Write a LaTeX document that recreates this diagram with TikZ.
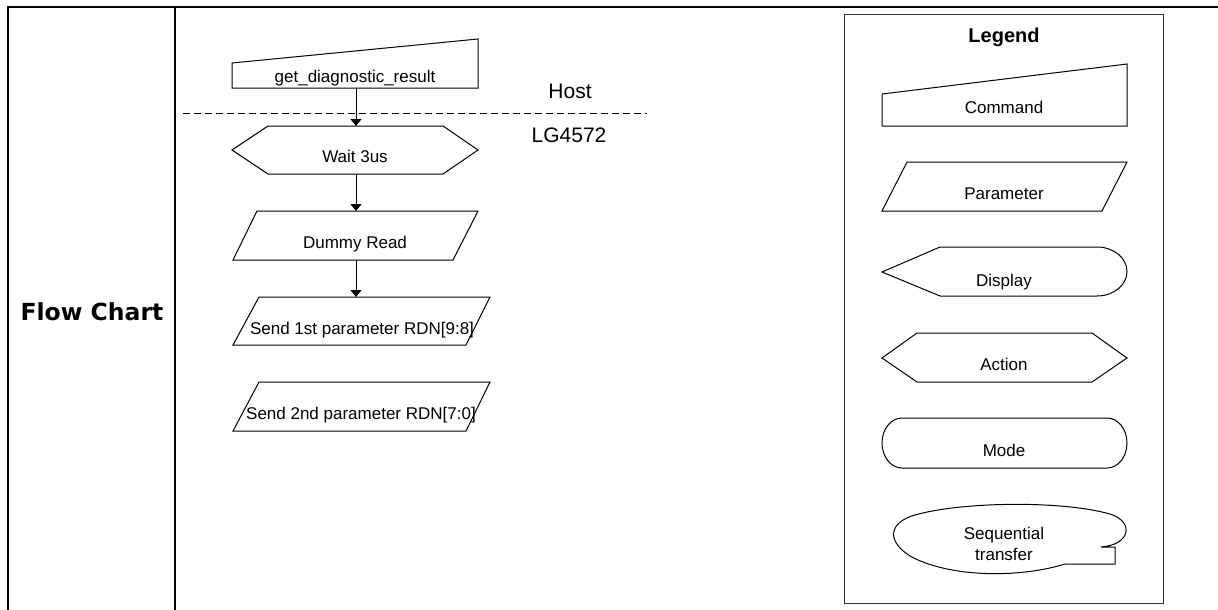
\documentclass[tikz,border=0pt]{standalone}
\usepackage{fontspec}
\setmainfont{Liberation Sans}
\newfontfamily\headfont{DejaVu Sans}
\usepackage{tikz}
\usetikzlibrary{arrows.meta}

\tikzset{
  frame/.style={line width=2pt},
  shp/.style={line width=1pt},
  arr/.style={line width=1pt,-{Triangle[length=7pt,width=11pt]}},
  lbl/.style={anchor=base,inner sep=0pt,font=\fontsize{17}{20}\selectfont},
  side/.style={anchor=base,inner sep=0pt,font=\fontsize{21}{24}\selectfont}
}

\begin{document}
\begin{tikzpicture}[x=1pt,y=-1pt]
\useasboundingbox (0,0) rectangle (1218,610);
% table frame
\draw[frame] (1218,7) -- (8,7) -- (8,610);
\draw[frame] (175,7) -- (175,610);
\node[anchor=base,inner sep=0pt,font=\headfont\bfseries\fontsize{23.5}{26}\selectfont] (title) at (92,320) {Flow Chart};

% flow chart
\draw[shp] (232,63) -- (478,39) -- (478,88) -- (232,88) -- cycle;
\node[lbl] (getres) at (355,82) {get\_diagnostic\_result};
\coordinate (getres-b) at (356,88);

\draw[shp,dashed,dash pattern=on 7pt off 4pt] (183,113) -- (647,113);
\node[side] (host) at (570,99) {Host};
\node[side] (chip) at (569,142) {LG4572};

\draw[shp] (232,150) -- (268,126) -- (443,126) -- (478,150) -- (443,174) -- (268,174) -- cycle;
\node[lbl] (wait) at (355,162) {Wait 3us};
\coordinate (wait-t) at (356,126);
\coordinate (wait-b) at (356,174);

\draw[shp] (257,211) -- (478,211) -- (453,260) -- (233,260) -- cycle;
\node[lbl] (dummy) at (355,248) {Dummy Read};
\coordinate (dummy-t) at (356,211);
\coordinate (dummy-b) at (356,260);

\draw[shp] (259,297) -- (490,297) -- (466,345) -- (233,345) -- cycle;
\node[lbl] (first) at (362,334) {Send 1st parameter RDN[9:8]};
\coordinate (first-t) at (356,297);

\draw[shp] (259,382) -- (490,382) -- (466,431) -- (233,431) -- cycle;
\node[lbl] (second) at (361,419) {Send 2nd parameter RDN[7:0]};

\draw[arr] (getres-b) -- (wait-t);
\draw[arr] (wait-b) -- (dummy-t);
\draw[arr] (dummy-b) -- (first-t);

% legend
\draw[line width=1pt,black!80] (844,15) rectangle (1163,603);
\node[anchor=base,inner sep=0pt,font=\bfseries\fontsize{20}{24}\selectfont] (legend) at (1004,43) {Legend};

\draw[shp] (882,94) -- (1127,64) -- (1127,126) -- (882,126) -- cycle;
\node[lbl] (command) at (1004,113) {Command};

\draw[shp] (907,162) -- (1127,162) -- (1102,211) -- (882,211) -- cycle;
\node[lbl] (param) at (1004,199) {Parameter};

\draw[shp] (882,272) -- (940,247) -- (1097,247)
  arc[start angle=-90,end angle=90,x radius=30,y radius=24.5] -- (940,296) -- cycle;
\node[lbl] (display) at (1004,286) {Display};

\draw[shp] (882,358) -- (917,333) -- (1092,333) -- (1127,358) -- (1092,382) -- (917,382) -- cycle;
\node[lbl] (action) at (1004,370) {Action};

\draw[shp] (902,418) -- (1107,418)
  arc[start angle=-90,end angle=90,x radius=20,y radius=25] -- (902,468)
  arc[start angle=90,end angle=270,x radius=20,y radius=25] -- cycle;
\node[lbl] (mode) at (1004,456) {Mode};

\draw[shp] (1101,547) -- (1115,547) -- (1115,564) -- (1065,564)
  .. controls (1020,578) and (950,578) .. (910,556)
  .. controls (885,540) and (890,522) .. (915,515)
  .. controls (960,502) and (1060,500) .. (1110,514)
  .. controls (1135,522) and (1130,545) .. (1101,547) -- cycle;
\node[lbl] (seq) at (1004,539) {Sequential};
\node[lbl] (transfer) at (1004,560) {transfer};
\end{tikzpicture}
\end{document}
